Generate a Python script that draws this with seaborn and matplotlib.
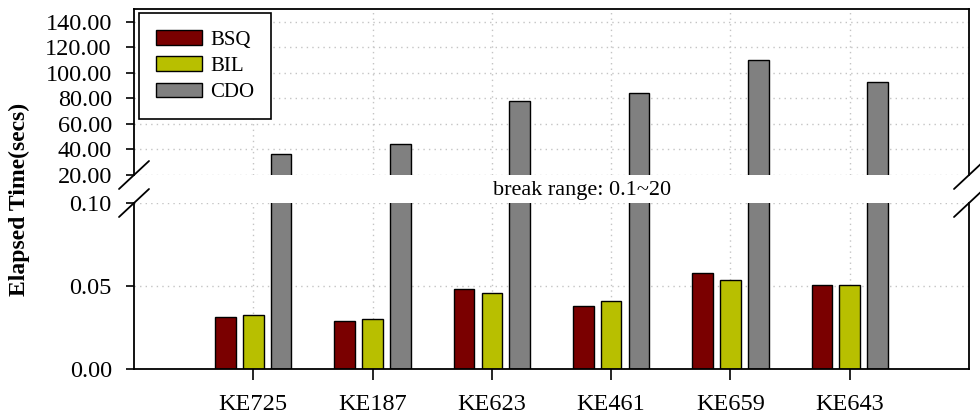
import matplotlib
matplotlib.use("Agg")
import matplotlib.pyplot as plt
from matplotlib.patches import Patch
from matplotlib.lines import Line2D
from matplotlib.ticker import FormatStrFormatter
import pandas as pd
import seaborn as sns

# Elapsed time per dataset and storage layout
datasets = ["KE725", "KE187", "KE623", "KE461", "KE659", "KE643"]
formats = ["BSQ", "BIL", "CDO"]
bsq_secs = [0.0315, 0.029, 0.048, 0.038, 0.0576, 0.0506]
bil_secs = [0.0323, 0.030, 0.046, 0.041, 0.0536, 0.0506]
cdo_secs = [36.4, 44.3, 78.2, 84.2, 110.4, 93.1]
colors = ["#7a0000", "#b8bf00", "#808080"]

top_ticks = [20, 40, 60, 80, 100, 120, 140]
bottom_ticks = [0.0, 0.05, 0.10]

df = pd.DataFrame({
    "dataset": datasets * 3,
    "format": [f for f in formats for _ in datasets],
    "secs": bsq_secs + bil_secs + cdo_secs,
})

sns.set_theme(style="ticks")
plt.rcParams["font.family"] = ["Liberation Serif", "DejaVu Serif"]
for key in ["text.color", "axes.labelcolor", "xtick.color", "ytick.color", "axes.edgecolor"]:
    plt.rcParams[key] = "black"

W, H = 980, 416
fig = plt.figure(figsize=(W / 100, H / 100), dpi=100)


def fx(px):
    return px / W


def fy(py):
    return 1 - py / H


x0, x1 = 134, 969
ax_top = fig.add_axes([fx(x0), fy(175), (x1 - x0) / W, (175 - 9) / H])
ax_bot = fig.add_axes([fx(x0), fy(369), (x1 - x0) / W, (369 - 203) / H])

for ax in (ax_top, ax_bot):
    sns.barplot(data=df, x="dataset", y="secs", hue="format",
                order=datasets, hue_order=formats, palette=colors,
                saturation=1, width=0.7, gap=0.26, errorbar=None,
                edgecolor="black", linewidth=1.0, legend=False, ax=ax)
    ax.set_axisbelow(True)
    ax.grid(True, linestyle=(0, (1, 3)), color="#c4c4c4", linewidth=1.0)
    ax.set_xlim(-1, 6)
    ax.set_xlabel("")
    ax.set_ylabel("")
    ax.yaxis.set_major_formatter(FormatStrFormatter("%.2f"))
    ax.tick_params(axis="y", left=True, length=6, width=1.2, pad=10, labelsize=17.5)
    for s in ax.spines.values():
        s.set_linewidth(1.3)
        s.set_color("black")

ax_top.set_ylim(20, 150)
ax_top.set_yticks(top_ticks)
ax_top.tick_params(axis="x", bottom=False, labelbottom=False, length=0)
ax_top.spines["bottom"].set_visible(False)

ax_bot.set_ylim(0, 0.10)
ax_bot.set_yticks(bottom_ticks)
ax_bot.tick_params(axis="x", bottom=True, length=8, width=1.2, pad=10, labelsize=17.5)
ax_bot.spines["top"].set_visible(False)

handles = [Patch(facecolor=c, edgecolor="black", linewidth=1.0) for c in colors]
leg = ax_top.legend(handles, formats, loc="upper left", bbox_to_anchor=(0.006, 0.976),
                    borderaxespad=0, frameon=True, fancybox=False, framealpha=1,
                    edgecolor="black", fontsize=15, handlelength=2.2, handleheight=0.7,
                    labelspacing=0.32, borderpad=0.82, handletextpad=0.4)
leg.get_frame().set_linewidth(1.2)

# diagonal break marks on both sides of the gap
for xc in (x0, x1):
    for yc in (175, 203):
        fig.add_artist(Line2D([fx(xc - 15), fx(xc + 15)], [fy(yc + 14), fy(yc - 14)],
                              transform=fig.transFigure, color="black", linewidth=1.3))

fig.text(fx(582), fy(191), "break range: 0.1~20", ha="center", va="center", fontsize=16)
fig.text(fx(19), fy(199), "Elapsed Time(secs)", rotation=90, ha="center", va="center",
         fontsize=17, fontweight="bold")

fig.savefig("out.png", dpi=100)
